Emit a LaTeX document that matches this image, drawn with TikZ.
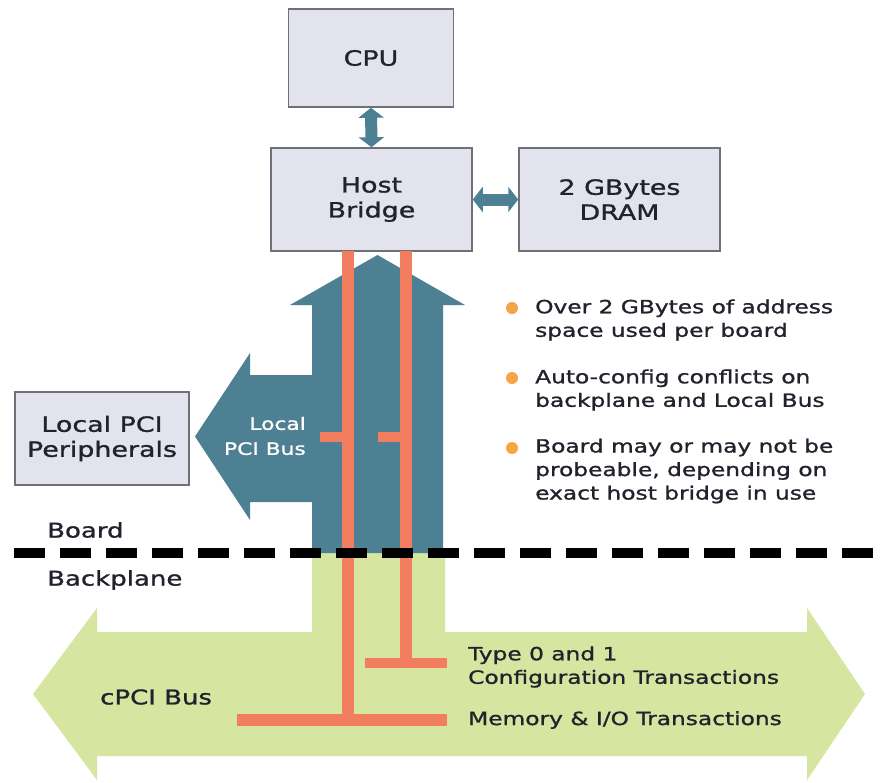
\documentclass[tikz,border=0pt]{standalone}
\usepackage{fontspec}
\usetikzlibrary{arrows.meta}
\newfontfamily\techfont{DejaVu Sans}[FakeStretch=1.28, FakeBold=1.2]

\definecolor{boxfill}{RGB}{227,227,238}
\definecolor{boxline}{RGB}{112,112,122}
\definecolor{busteal}{RGB}{78,128,148}
\definecolor{busgreen}{RGB}{214,230,160}
\definecolor{txline}{RGB}{242,125,95}
\definecolor{bulletc}{RGB}{245,165,70}
\definecolor{ink}{RGB}{34,34,44}

\tikzset{
  unitbox/.style={draw=boxline, line width=1.5pt, fill=boxfill, inner sep=0pt,
    align=center, text=ink, font=\techfont\fontsize{21}{25}\selectfont},
  link/.style={draw=busteal, line width=12pt,
    {Triangle[length=10pt,width=25pt]}-{Triangle[length=10pt,width=25pt]}, shorten <=0pt, shorten >=0pt},
  label/.style={text=ink, inner sep=0pt, font=\techfont\fontsize{20.3}{24}\selectfont},
  note/.style={text=ink, inner sep=0pt, align=left, font=\techfont\fontsize{18.2}{23.5}\selectfont},
  txwire/.style={draw=txline, line width=12pt},
  txstub/.style={draw=txline, line width=10pt},
  dot/.style={circle, fill=bulletc, minimum size=12pt, inner sep=0pt},
}

\begin{document}
\begin{tikzpicture}[x=1pt, y=-1pt]
  % canvas
  \fill[white] (0,0) rectangle (886,782);
  \useasboundingbox (0,0) rectangle (886,782);

  % cPCI backplane bus (green double arrow with stem)
  \fill[busgreen] (312,550) -- (445,550) -- (445,632) -- (807,632) -- (807,608)
    -- (865,694) -- (807,780) -- (807,756) -- (97,756) -- (97,780) -- (33,694)
    -- (97,608) -- (97,632) -- (312,632) -- cycle;

  % local bus on the board (teal up arrow with branch to the left)
  \fill[busteal] (443,553) -- (443,305) -- (465,305) -- (377.5,255) -- (290,305)
    -- (312,305) -- (312,375) -- (250,375) -- (250,353) -- (195,436.5)
    -- (250,520) -- (250,502) -- (312,502) -- (312,553) -- cycle;

  % units
  \node[unitbox, minimum width=165pt, minimum height=98pt] (cpu) at (371,58) {CPU};
  \node[unitbox, minimum width=201pt, minimum height=103pt] (host) at (371.5,199.5) {Host\\Bridge};
  \node[unitbox, minimum width=201pt, minimum height=103pt] (dram) at (619.5,199.5) {2 GBytes\\DRAM};
  \node[unitbox, minimum width=174pt, minimum height=93pt] (local) at (102,438.5) {Local PCI\\Peripherals};

  % point-to-point links
  \draw[link] (cpu.south) -- (host.north);
  \draw[link] (host.east) -- (dram.west);

  % transaction paths
  \coordinate (memtop) at (348,251);
  \coordinate (memend) at (348,720);
  \coordinate (cfgtop) at (406,251);
  \coordinate (cfgend) at (406,663);
  \draw[txwire] (memtop) -- (memend);
  \draw[txwire] (cfgtop) -- (cfgend);
  \draw[txwire] (237,720) -- (447,720);
  \draw[txstub] (365,663) -- (447,663);
  \draw[txstub] (320,437) -- (348,437);
  \draw[txstub] (378,437) -- (406,437);

  % board / backplane boundary
  \draw[black, line width=10pt, dash pattern=on 31pt off 15pt] (14,553) -- (886,553);

  % labels
  \node[label, anchor=west] (board) at (47,530) {Board};
  \node[label, anchor=west] (backplane) at (47,580) {Backplane};
  \node[label, anchor=west] (cpci) at (100,697) {cPCI Bus};
  \node[inner sep=0pt, anchor=east, align=right, text=white,
        font=\techfont\fontsize{17}{25}\selectfont] (lpci) at (306,436) {Local\\PCI Bus};

  % notes on the right
  \node[dot] (b1) at (512,308) {};
  \node[dot] (b2) at (512,378) {};
  \node[dot] (b3) at (512,448) {};
  \node[note, anchor=west] (n1) at (535,320) {Over 2 GBytes of address\\space used per board};
  \node[note, anchor=west] (n2) at (535,390) {Auto-config conflicts on\\backplane and Local Bus};
  \node[note, anchor=west] (n3) at (535,471) {Board may or may not be\\probeable, depending on\\exact host bridge in use};

  % transaction labels
  \node[note, anchor=west] (cfgtx) at (468,667) {Type 0 and 1\\Configuration Transactions};
  \node[note, anchor=west] (memtx) at (468,720) {Memory \& I/O Transactions};
\end{tikzpicture}
\end{document}
